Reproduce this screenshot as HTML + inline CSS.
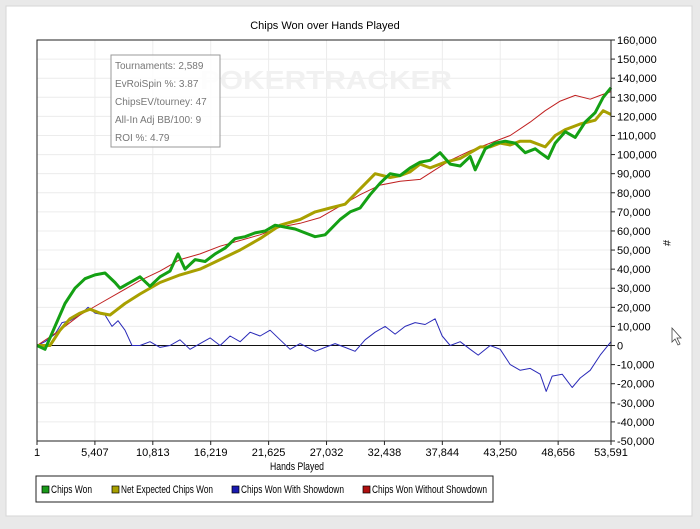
<!DOCTYPE html>
<html><head><meta charset="utf-8"><style>
html,body{margin:0;padding:0;background:#e9e9e9;}
body{width:700px;height:524px;overflow:hidden;font-family:"Liberation Sans",sans-serif;}
</style></head><body>
<svg id="chart" width="700" height="524" xmlns="http://www.w3.org/2000/svg" font-family="Liberation Sans, sans-serif">
<rect x="6" y="6" width="686" height="510" fill="#fff" stroke="#d6d6d6"/>
<text x="325" y="29" font-size="11" text-anchor="middle" fill="#000">Chips Won over Hands Played</text>
<g id="grid"></g>
<text x="200" y="89" font-size="26" fill="#f1f1f1" font-weight="bold" textLength="252" lengthAdjust="spacingAndGlyphs">POKERTRACKER</text>
<g id="series"></g>
<rect x="37" y="40" width="574" height="401" fill="none" stroke="#222"/>
<g id="axes"></g>
<text x="270" y="470" font-size="11" textLength="54" lengthAdjust="spacingAndGlyphs">Hands Played</text>
<text x="663" y="243" font-size="11" text-anchor="middle" transform="rotate(90 663 243)">#</text>
<g>
<rect x="111" y="55" width="109" height="92" fill="#fff" fill-opacity="0.85" stroke="#999"/>
<g font-size="10" fill="#777">
<text x="115" y="69">Tournaments: 2,589</text>
<text x="115" y="87">EvRoiSpin %: 3.87</text>
<text x="115" y="105">ChipsEV/tourney: 47</text>
<text x="115" y="123">All-In Adj BB/100: 9</text>
<text x="115" y="141">ROI %: 4.79</text>
</g></g>
<g>
<rect x="36" y="476" width="457" height="26" fill="#fff" stroke="#222"/>
<g font-size="11">
<g><rect x="42" y="486" width="7" height="7" fill="#1a9a1a" stroke="#000" stroke-width="0.7"/><text x="51" y="493" textLength="41" lengthAdjust="spacingAndGlyphs">Chips Won</text></g>
<g><rect x="112" y="486" width="7" height="7" fill="#a8a000" stroke="#000" stroke-width="0.7"/><text x="121" y="493" textLength="92" lengthAdjust="spacingAndGlyphs">Net Expected Chips Won</text></g>
<g><rect x="232" y="486" width="7" height="7" fill="#1a1ab0" stroke="#000" stroke-width="0.7"/><text x="241" y="493" textLength="103" lengthAdjust="spacingAndGlyphs">Chips Won With Showdown</text></g>
<g><rect x="363" y="486" width="7" height="7" fill="#b01010" stroke="#000" stroke-width="0.7"/><text x="372" y="493" textLength="115" lengthAdjust="spacingAndGlyphs">Chips Won Without Showdown</text></g>
</g></g>
<path d="M672 328 L672 342 L675 339 L678 345 L680 344 L677 338 L681 338 Z" fill="#fff" stroke="#444" stroke-width="0.8"/>
</svg>
<script>
const xTickLabels=["1","5,407","10,813","16,219","21,625","27,032","32,438","37,844","43,250","48,656","53,591"];
const xTickValues=[1,5407,10813,16219,21625,27032,32438,37844,43250,48656,53591];
const yTicks=[-50000,-40000,-30000,-20000,-10000,0,10000,20000,30000,40000,50000,60000,70000,80000,90000,100000,110000,120000,130000,140000,150000,160000];
const greenHands=[0,747,1681,2615,3549,4483,5417,6351,7285,7752,8686,9620,10554,11488,12422,13169,13823,14757,15691,16625,17559,18493,19427,20361,21295,22229,23163,24097,25031,25965,26899,28300,29234,30168,31102,32036,32970,33904,34838,35772,36706,37640,38574,39508,40442,40909,41843,42777,43711,44645,45579,46513,46980,47727,48381,49315,50249,51183,52117,52864,53591];
const greenVals=[0,-2,10,22,30,35,37,38,33,30,33,36,31,36,39,48,40,45,44,48,51,56,57,59,60,63,62,61,59,57,58,66,70,72,79,85,90,89,93,96,97,101,95,94,99,92,103,106,107,106,101,103,101,98,106,112,109,117,122,130,135];
const yellowHands=[0,1214,2148,3082,4016,4950,5884,6818,7285,8219,9620,11488,13356,15224,17092,18960,20828,22696,24564,25965,27366,28767,30168,31569,32970,33904,34838,35772,36706,38107,39508,41376,42310,43244,44178,45112,46046,47447,48381,49315,50715,52117,52864,53591];
const yellowVals=[0,0,8,14,17,19,17,16,18,22,27,33,37,40,45,50,56,63,66,70,72,74,82,90,88,89,91,95,93,96,98,104,104,106,105,107,107,104,110,113,116,118,123,121];
const redHands=[0,2148,4016,5884,7752,9620,11488,13356,15224,17092,18960,20828,22696,24564,26432,28300,30168,32036,33904,35772,37173,38574,40442,42310,44178,46046,47447,48848,50249,51650,52584,53591];
const redVals=[0,8,16,22,28,34,39,45,48,52,55,58,62,64,67,73,79,84,86,87,92,97,102,106,110,117,123,128,131,129,131,133];
const blueHands=[0,747,1681,2335,3082,4016,4763,5417,6351,7005,7565,8219,8873,9620,10554,11488,12422,13356,14290,15224,16158,17092,18026,18960,19894,20828,21762,22696,23630,24564,25965,26899,27833,28767,29701,30635,31569,32503,33437,34371,35305,36239,37173,37827,38574,39508,40442,41189,42310,43244,44178,45112,46046,46980,47541,48101,49035,49969,50715,51650,52584,53591];
const blueVals=[0,2,6,12,13,16,20,17,16,10,13,8,0,0,2,-1,0,3,-2,1,4,0,5,2,7,5,8,3,-2,1,-3,-1,1,-1,-3,3,7,10,6,10,12,11,14,5,0,2,-2,-5,0,-2,-10,-13,-12,-15,-24,-16,-15,-22,-17,-13,-5,2];

const NS="http://www.w3.org/2000/svg";
const L=37,R=611,T=40,B=441,XMIN=1,XMAX=53591,YMIN=-50000,YMAX=160000;
const xs=v=>L+(v-XMIN)/(XMAX-XMIN)*(R-L);
const ys=v=>B-(v-YMIN)/(YMAX-YMIN)*(B-T);
function mk(tag,attrs,parent){const e=document.createElementNS(NS,tag);for(const k in attrs)e.setAttribute(k,attrs[k]);parent.appendChild(e);return e;}
const grid=document.getElementById('grid'),axes=document.getElementById('axes'),ser=document.getElementById('series');
yTicks.forEach((t,i)=>{
  const y=ys(t);
  const g=mk('line',{x1:L,x2:R,y1:y,y2:y,stroke:'#ececec'},grid);
  
  
  const tk=mk('line',{x1:R,x2:R+4,y1:y,y2:y,stroke:'#222'},axes);
  
  
  const lb=mk('text',{x:R+6,y:y+4,'font-size':11},axes);
  lb.textContent=t.toLocaleString('en-US');
  
  
});
xTickValues.forEach((t,i)=>{
  const x=xs(t);
  const g=mk('line',{x1:x,x2:x,y1:T,y2:B,stroke:'#ececec'},grid);
  
  
  const tk=mk('line',{x1:x,x2:x,y1:B,y2:B+4,stroke:'#222'},axes);
  
  
  const lb=mk('text',{x:x,y:B+15,'font-size':11,'text-anchor':'middle'},axes);
  lb.textContent=xTickLabels[i];
  
  
});
const zl=mk('line',{x1:L,x2:R,y1:ys(0),y2:ys(0),stroke:'#111'},ser);


function line(h,v,color,w,name){
  const d=h.map((x,i)=>(i?'L':'M')+xs(x).toFixed(1)+' '+ys(v[i]*1000).toFixed(1)).join(' ');
  const p=mk('path',{d:d,fill:'none',stroke:color,'stroke-width':w,'stroke-linejoin':'round'},ser);
  
  
}
line(blueHands,blueVals,'#2a2ab8',1,'line-chips-won-with-showdown');
line(redHands,redVals,'#c02020',1,'line-chips-won-without-showdown');
line(yellowHands,yellowVals,'#a8a000',3,'line-net-expected-chips-won');
line(greenHands,greenVals,'#14a014',3,'line-chips-won');
</script>
</body></html>
